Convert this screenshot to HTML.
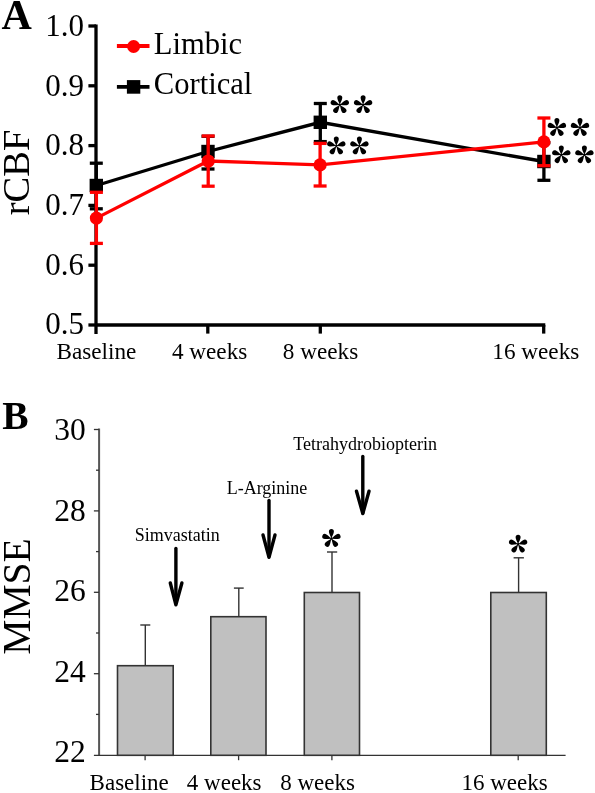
<!DOCTYPE html>
<html><head><meta charset="utf-8"><style>
html,body{margin:0;padding:0;background:#fff;width:595px;height:793px;overflow:hidden}
svg{display:block;will-change:transform}
text{font-family:"Liberation Serif",serif;fill:#000}
</style></head><body>
<svg width="595" height="793" viewBox="0 0 595 793">
<defs>
<g id="ast">
<path id="pet" d="M0,0.4 C-0.9,-3 -2.5,-5 -2.5,-7 A2.5,2.5 0 0 1 2.5,-7 C2.5,-5 0.9,-3 0,0.4 Z"/>
<circle r="1.1"/>
<use href="#pet" transform="rotate(72)"/>
<use href="#pet" transform="rotate(144)"/>
<use href="#pet" transform="rotate(216)"/>
<use href="#pet" transform="rotate(288)"/>
</g>
</defs>

<!-- ============ PANEL A ============ -->
<text x="1.6" y="29" font-size="42" font-weight="bold">A</text>

<!-- y axis -->
<g stroke="#000" stroke-width="3.3" fill="none">
<line x1="96" y1="24.4" x2="96" y2="334"/>
<line x1="88.4" y1="26" x2="96" y2="26"/>
<line x1="88.4" y1="85.8" x2="96" y2="85.8"/>
<line x1="88.4" y1="145.6" x2="96" y2="145.6"/>
<line x1="88.4" y1="205.4" x2="96" y2="205.4"/>
<line x1="88.4" y1="265.2" x2="96" y2="265.2"/>
<line x1="88.4" y1="325" x2="96" y2="325"/>
<!-- x axis -->
<line x1="96" y1="325" x2="545.3" y2="325"/>
<line x1="207.8" y1="325" x2="207.8" y2="333.6"/>
<line x1="320.3" y1="325" x2="320.3" y2="333.6"/>
<line x1="543.7" y1="325" x2="543.7" y2="333.6"/>
</g>

<g font-size="31" text-anchor="end">
<text x="84" y="36.2">1.0</text>
<text x="84" y="95.8">0.9</text>
<text x="84" y="155.4">0.8</text>
<text x="84" y="215">0.7</text>
<text x="84" y="274.6">0.6</text>
<text x="84" y="334.2">0.5</text>
</g>

<text transform="translate(29.2,172.4) rotate(-90)" font-size="38.5" text-anchor="middle">rCBF</text>

<g font-size="23.2" text-anchor="middle">
<text x="96.4" y="359">Baseline</text>
<text x="209.6" y="359">4 weeks</text>
<text x="320.5" y="359">8 weeks</text>
<text x="535.8" y="359">16 weeks</text>
</g>

<!-- Cortical (black) -->
<g stroke="#000" stroke-width="3.3" fill="none">
<polyline points="96.3,185.5 208,151.5 320.3,122.3 543.9,161.5"/>
<line x1="96.3" y1="163.2" x2="96.3" y2="208.8"/>
<line x1="89.8" y1="163.2" x2="102.8" y2="163.2"/>
<line x1="89.8" y1="208.8" x2="102.8" y2="208.8"/>
<line x1="208" y1="136.3" x2="208" y2="169"/>
<line x1="201.5" y1="136.3" x2="214.5" y2="136.3"/>
<line x1="201.5" y1="169" x2="214.5" y2="169"/>
<line x1="320.3" y1="103.5" x2="320.3" y2="141.6"/>
<line x1="313.8" y1="103.5" x2="326.8" y2="103.5"/>
<line x1="313.8" y1="141.6" x2="326.8" y2="141.6"/>
<line x1="543.9" y1="142.7" x2="543.9" y2="180.3"/>
<line x1="537.4" y1="142.7" x2="550.4" y2="142.7"/>
<line x1="537.4" y1="180.3" x2="550.4" y2="180.3"/>
</g>
<g fill="#000">
<rect x="89.6" y="178.8" width="13.4" height="13.4"/>
<rect x="201.3" y="144.8" width="13.4" height="13.4"/>
<rect x="313.6" y="115.6" width="13.4" height="13.4"/>
<rect x="537.2" y="154.8" width="13.4" height="13.4"/>
</g>

<!-- Limbic (red) -->
<g stroke="#f00" stroke-width="3.3" fill="none">
<polyline points="96.4,218.1 208.2,161 320.1,164.9 543.9,141.9"/>
<line x1="96.4" y1="192.3" x2="96.4" y2="243.4"/>
<line x1="89.9" y1="192.3" x2="102.9" y2="192.3"/>
<line x1="89.9" y1="243.4" x2="102.9" y2="243.4"/>
<line x1="208.2" y1="136" x2="208.2" y2="186.2"/>
<line x1="201.7" y1="136" x2="214.7" y2="136"/>
<line x1="201.7" y1="186.2" x2="214.7" y2="186.2"/>
<line x1="320.1" y1="143.4" x2="320.1" y2="186"/>
<line x1="313.6" y1="143.4" x2="326.6" y2="143.4"/>
<line x1="313.6" y1="186" x2="326.6" y2="186"/>
<line x1="543.9" y1="118" x2="543.9" y2="165.7"/>
<line x1="537.4" y1="118" x2="550.4" y2="118"/>
<line x1="537.4" y1="165.7" x2="550.4" y2="165.7"/>
</g>
<g fill="#f00">
<circle cx="96.4" cy="218.1" r="6.6"/>
<circle cx="208.2" cy="161" r="6.6"/>
<circle cx="320.1" cy="164.9" r="6.6"/>
<circle cx="543.9" cy="141.9" r="6.6"/>
</g>

<!-- asterisks A -->
<use href="#ast" x="339.8" y="104.8"/>
<use href="#ast" x="363.1" y="104.8"/>
<use href="#ast" x="336.3" y="146"/>
<use href="#ast" x="359.4" y="146"/>
<use href="#ast" x="556.9" y="127.6"/>
<use href="#ast" x="580" y="127.6"/>
<use href="#ast" x="561.3" y="154.9"/>
<use href="#ast" x="584.4" y="154.9"/>

<!-- legend -->
<line x1="116.9" y1="46" x2="149.5" y2="46" stroke="#f00" stroke-width="3.8"/>
<circle cx="133.6" cy="46.5" r="6.5" fill="#f00"/>
<line x1="116.9" y1="86.8" x2="149.5" y2="86.8" stroke="#000" stroke-width="3.8"/>
<rect x="126.9" y="80.1" width="13.4" height="13.6" fill="#000"/>
<g font-size="30.6">
<text x="153.8" y="54">Limbic</text>
<text x="153.8" y="94.3">Cortical</text>
</g>

<!-- ============ PANEL B ============ -->
<text x="2.2" y="429" font-size="39.5" font-weight="bold">B</text>

<g stroke="#555" stroke-width="2" fill="none">
<line x1="99.1" y1="428.6" x2="99.1" y2="755.3"/>
</g>
<g stroke="#333" stroke-width="1.3" fill="none">
<line x1="93.9" y1="429.5" x2="99" y2="429.5"/>
<line x1="96" y1="470.2" x2="99" y2="470.2"/>
<line x1="93.9" y1="510.9" x2="99" y2="510.9"/>
<line x1="96" y1="551.6" x2="99" y2="551.6"/>
<line x1="93.9" y1="592.3" x2="99" y2="592.3"/>
<line x1="96" y1="633" x2="99" y2="633"/>
<line x1="93.9" y1="673.7" x2="99" y2="673.7"/>
<line x1="96" y1="714.4" x2="99" y2="714.4"/>
<line x1="93.9" y1="755.3" x2="565.6" y2="755.3"/>
<line x1="145.1" y1="755.3" x2="145.1" y2="760.2"/>
<line x1="238.6" y1="755.3" x2="238.6" y2="760.2"/>
<line x1="331.9" y1="755.3" x2="331.9" y2="760.2"/>
<line x1="518.2" y1="755.3" x2="518.2" y2="760.2"/>
</g>

<g font-size="31.5" text-anchor="end">
<text x="85.8" y="440">30</text>
<text x="85.8" y="520.5">28</text>
<text x="85.8" y="601">26</text>
<text x="85.8" y="681.5">24</text>
<text x="85.8" y="762">22</text>
</g>

<text transform="translate(30.2,596.5) rotate(-90)" font-size="39.5" text-anchor="middle">MMSE</text>

<!-- bars -->
<g fill="#c0c0c0" stroke="#333" stroke-width="1.6">
<rect x="117.5" y="665.7" width="55.7" height="89.6"/>
<rect x="210.8" y="616.7" width="55.2" height="138.6"/>
<rect x="304.3" y="592.5" width="55.2" height="162.8"/>
<rect x="490.8" y="592.5" width="55.5" height="162.8"/>
</g>
<g stroke="#333" stroke-width="1.4" fill="none">
<line x1="145.3" y1="625" x2="145.3" y2="665.7"/>
<line x1="140.3" y1="625" x2="150.3" y2="625"/>
<line x1="238.8" y1="588.1" x2="238.8" y2="616.7"/>
<line x1="233.9" y1="588.1" x2="243.7" y2="588.1"/>
<line x1="332" y1="552" x2="332" y2="592.5"/>
<line x1="327" y1="552" x2="337.2" y2="552"/>
<line x1="518.6" y1="557.8" x2="518.6" y2="592.5"/>
<line x1="513.6" y1="557.8" x2="523.9" y2="557.8"/>
</g>

<use href="#ast" x="331.4" y="538.6"/>
<use href="#ast" x="518.1" y="544.2"/>

<g font-size="23" text-anchor="middle">
<text x="129.2" y="789.7">Baseline</text>
<text x="224.2" y="789.7">4 weeks</text>
<text x="317.5" y="789.7">8 weeks</text>
<text x="504.5" y="789.7">16 weeks</text>
</g>

<!-- annotations -->
<g font-size="18" text-anchor="middle">
<text x="177.2" y="541.2">Simvastatin</text>
<text x="267" y="493.5">L-Arginine</text>
<text x="365.2" y="450.3">Tetrahydrobiopterin</text>
</g>
<g stroke="#000" stroke-width="3.4" fill="none" stroke-linecap="round" stroke-linejoin="round">
<line x1="175.9" y1="548.4" x2="175.9" y2="603"/>
<polyline points="170.3,583 175.9,604.8 181.9,583"/>
<line x1="269" y1="500.4" x2="269" y2="556"/>
<polyline points="263,535 269,557.3 275,535"/>
<line x1="362.8" y1="456.4" x2="362.8" y2="513"/>
<polyline points="356.5,491.2 362.8,513.6 369,491.2"/>
</g>
</svg>
</body></html>
